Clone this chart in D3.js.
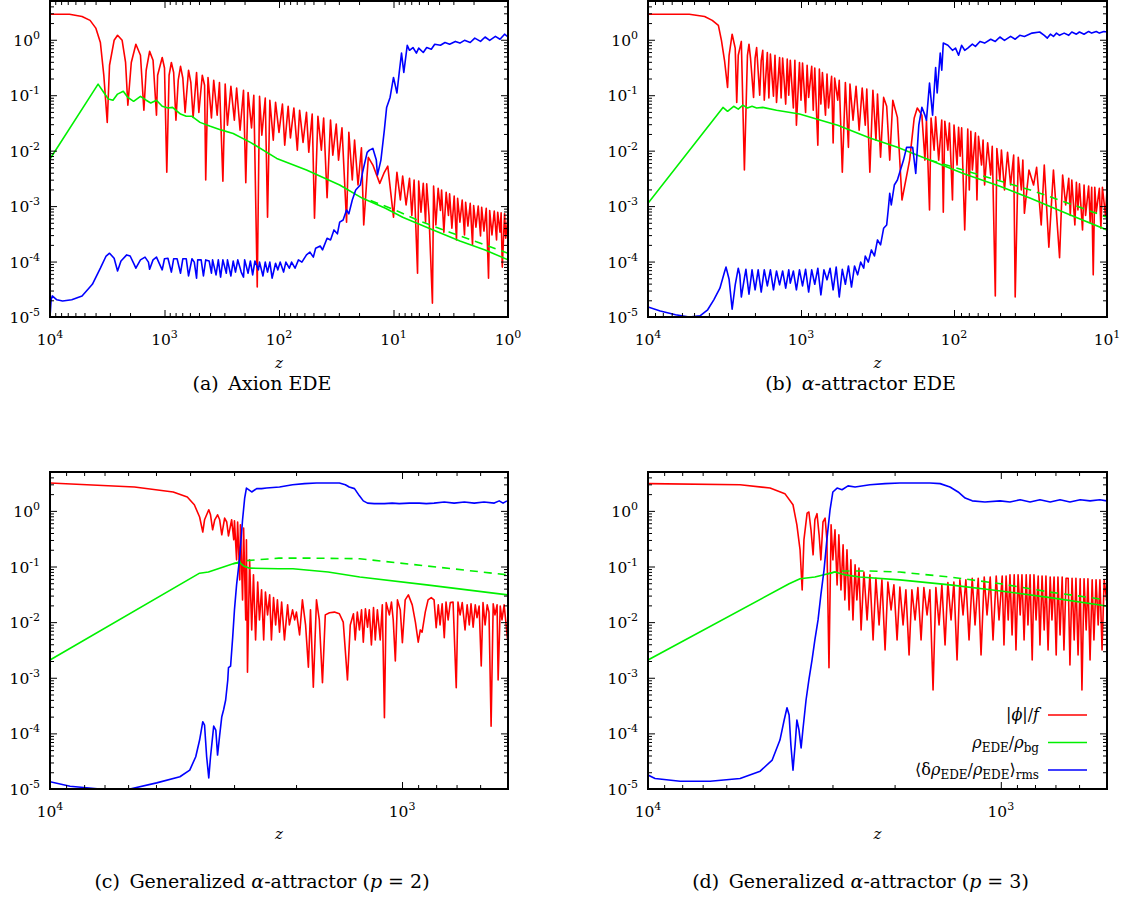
<!DOCTYPE html>
<html>
<head>
<meta charset="utf-8">
<script src="https://cdn.jsdelivr.net/npm/d3@7"></script>
<style>
  body { margin: 0; background: #fff; }
  svg { display: block; }
  text { font-family: "DejaVu Serif", "Liberation Serif", serif; fill: #000; }
</style>
</head>
<body>
<svg id="chart" width="1125" height="903"></svg>
<script>
'use strict'

// every series is a list of [log10 z, log10 value] pairs

// (a) Axion EDE
var phiA = [[4.00,0.46],[3.83,0.46],[3.72,0.42],[3.65,0.35],[3.60,0.21],[3.56,-0.05],[3.53,-0.64],[3.50,-1.49],[3.48,-0.46],[3.44,-0.01],[3.41,0.08],[3.37,-0.01],[3.34,-0.41],[3.32,-1.18],[3.29,-0.41],[3.25,-0.08],[3.21,-0.28],[3.18,-1.27],[3.16,-0.55],[3.13,-0.21],[3.10,-0.37],[3.07,-1.36],[3.06,-0.64],[3.02,-0.32],[3.00,-0.51],[2.98,-2.39],[2.96,-0.64],[2.94,-0.41],[2.92,-0.59],[2.90,-1.45],[2.88,-0.73],[2.86,-0.48],[2.84,-0.69],[2.82,-1.31],[2.79,-0.55],[2.77,-0.77],[2.75,-1.40],[2.72,-0.59],[2.70,-1.31],[2.67,-0.64],[2.65,-0.82],[2.64,-2.53],[2.62,-0.68],[2.59,-1.41],[2.57,-0.73],[2.54,-1.36],[2.52,-0.77],[2.49,-2.55],[2.47,-0.80],[2.45,-1.54],[2.42,-0.84],[2.39,-1.45],[2.37,-0.87],[2.34,-1.63],[2.31,-0.91],[2.29,-2.58],[2.27,-0.95],[2.24,-1.59],[2.22,-1.00],[2.19,-4.46],[2.17,-1.02],[2.15,-1.72],[2.12,-1.05],[2.10,-3.20],[2.08,-1.09],[2.05,-1.81],[2.03,-1.13],[2.00,-1.67],[1.97,-1.16],[1.95,-1.90],[1.92,-1.20],[1.90,-1.77],[1.87,-1.23],[1.84,-1.99],[1.82,-1.27],[1.79,-1.85],[1.76,-1.31],[1.74,-2.03],[1.71,-1.34],[1.69,-3.22],[1.66,-1.38],[1.63,-1.99],[1.61,-1.41],[1.58,-2.85],[1.55,-1.45],[1.53,-2.08],[1.50,-1.52],[1.48,-2.17],[1.45,-1.59],[1.41,-3.29],[1.39,-1.67],[1.36,-2.53],[1.34,-1.81],[1.31,-2.62],[1.28,-1.95],[1.26,-3.34],[1.22,-2.12],[1.18,-2.26],[1.12,-2.59],[1.08,-2.39],[1.05,-2.28],[1.00,-3.20],[0.97,-2.39],[0.94,-2.89],[0.92,-2.46],[0.89,-2.98],[0.86,-2.50],[0.84,-3.17],[0.82,-2.53],[0.79,-4.21],[0.78,-2.55],[0.76,-3.11],[0.74,-2.59],[0.72,-3.29],[0.71,-2.60],[0.69,-3.17],[0.66,-4.75],[0.65,-2.64],[0.63,-3.34],[0.61,-2.68],[0.59,-3.08],[0.58,-2.71],[0.56,-3.47],[0.54,-2.75],[0.52,-3.17],[0.51,-2.78],[0.49,-3.40],[0.47,-2.82],[0.45,-3.61],[0.44,-2.86],[0.42,-3.29],[0.40,-2.89],[0.38,-3.52],[0.37,-2.93],[0.35,-3.36],[0.33,-2.95],[0.31,-3.70],[0.30,-2.99],[0.28,-3.38],[0.26,-3.00],[0.24,-3.54],[0.23,-3.02],[0.21,-3.45],[0.19,-3.04],[0.17,-4.30],[0.16,-3.08],[0.14,-3.52],[0.12,-3.09],[0.10,-3.61],[0.09,-3.11],[0.07,-3.47],[0.06,-3.12],[0.05,-4.10],[0.03,-3.14],[0.02,-3.58],[0.00,-3.18]];
var rhoA = [[4.00,-2.15],[3.58,-0.80],[3.53,-0.95],[3.49,-1.07],[3.45,-1.09],[3.41,-0.98],[3.36,-0.93],[3.32,-1.04],[3.27,-1.11],[3.21,-1.02],[3.16,-1.09],[3.12,-1.14],[3.07,-1.09],[3.02,-1.20],[2.97,-1.23],[2.93,-1.22],[2.86,-1.34],[2.81,-1.38],[2.76,-1.38],[2.69,-1.49],[2.60,-1.56],[2.50,-1.63],[2.40,-1.69],[2.25,-1.85],[2.02,-2.14],[1.76,-2.35],[1.47,-2.62],[1.27,-2.86],[1.07,-3.04],[0.92,-3.20],[0.68,-3.41],[0.42,-3.63],[0.20,-3.79],[0.00,-3.97]];
var rhoDashA = [[1.20,-2.90],[1.00,-3.06],[0.77,-3.27],[0.51,-3.47],[0.24,-3.67],[0.00,-3.85]];
var drhoA = [[4.00,-5.00],[3.99,-4.69],[3.98,-4.62],[3.94,-4.69],[3.89,-4.71],[3.81,-4.69],[3.72,-4.62],[3.63,-4.41],[3.56,-4.12],[3.51,-3.90],[3.48,-3.85],[3.44,-3.94],[3.41,-4.17],[3.38,-3.99],[3.33,-3.88],[3.30,-3.90],[3.27,-4.03],[3.25,-4.12],[3.21,-3.97],[3.17,-3.92],[3.14,-4.01],[3.13,-4.14],[3.10,-3.97],[3.07,-3.92],[3.04,-4.06],[3.02,-4.15],[3.00,-3.95],[2.97,-3.94],[2.94,-4.19],[2.92,-3.95],[2.89,-3.95],[2.86,-4.21],[2.84,-3.95],[2.81,-3.95],[2.79,-4.26],[2.76,-3.95],[2.74,-4.01],[2.72,-4.30],[2.71,-3.97],[2.68,-3.97],[2.66,-4.26],[2.64,-3.97],[2.61,-3.99],[2.59,-4.21],[2.58,-3.97],[2.55,-4.24],[2.53,-3.97],[2.51,-4.28],[2.49,-3.97],[2.46,-4.21],[2.45,-3.97],[2.42,-4.26],[2.40,-3.99],[2.38,-4.19],[2.36,-3.97],[2.33,-4.19],[2.31,-4.28],[2.30,-3.97],[2.27,-4.21],[2.25,-3.99],[2.23,-4.24],[2.21,-3.99],[2.18,-4.15],[2.17,-4.01],[2.14,-4.26],[2.12,-4.01],[2.10,-4.19],[2.08,-4.01],[2.06,-4.30],[2.03,-4.03],[2.01,-4.15],[1.99,-4.01],[1.96,-4.19],[1.94,-4.01],[1.91,-4.12],[1.89,-4.01],[1.86,-4.12],[1.83,-3.97],[1.80,-4.01],[1.76,-3.88],[1.73,-3.83],[1.70,-3.92],[1.68,-3.76],[1.64,-3.72],[1.62,-3.79],[1.58,-3.58],[1.55,-3.61],[1.52,-3.43],[1.49,-3.50],[1.47,-3.29],[1.44,-3.25],[1.41,-3.07],[1.39,-3.14],[1.36,-2.89],[1.33,-2.71],[1.29,-2.62],[1.27,-2.39],[1.23,-2.03],[1.21,-1.99],[1.18,-1.96],[1.15,-2.17],[1.14,-2.44],[1.11,-2.17],[1.08,-1.63],[1.06,-1.22],[1.03,-1.04],[1.00,-0.68],[0.99,-0.77],[0.97,-0.96],[0.95,-0.59],[0.93,-0.24],[0.91,-0.59],[0.88,-0.10],[0.86,-0.19],[0.83,-0.14],[0.80,-0.24],[0.78,-0.15],[0.74,-0.23],[0.71,-0.14],[0.67,-0.17],[0.64,-0.08],[0.59,-0.10],[0.55,-0.05],[0.51,-0.08],[0.46,-0.03],[0.42,-0.06],[0.38,-0.01],[0.33,-0.05],[0.29,0.03],[0.24,-0.03],[0.20,0.05],[0.16,-0.01],[0.11,0.06],[0.07,0.01],[0.03,0.10],[0.00,0.05]];

// (b) alpha-attractor EDE
var phiB = [[4.00,0.46],[3.73,0.46],[3.63,0.42],[3.58,0.35],[3.54,0.26],[3.52,-0.01],[3.50,-0.37],[3.48,-0.86],[3.47,-0.28],[3.45,0.10],[3.43,-0.15],[3.42,-1.13],[3.41,-0.28],[3.39,-0.03],[3.37,-2.35],[3.35,-0.28],[3.34,-0.08],[3.33,-0.33],[3.31,-1.04],[3.30,-0.33],[3.29,-0.14],[3.27,-1.00],[3.26,-0.37],[3.25,-0.19],[3.24,-1.09],[3.22,-0.23],[3.21,-1.05],[3.20,-0.26],[3.18,-1.02],[3.17,-0.28],[3.16,-1.13],[3.14,-0.32],[3.13,-1.05],[3.12,-0.33],[3.10,-1.16],[3.09,-0.35],[3.08,-1.00],[3.07,-0.37],[3.05,-1.23],[3.04,-0.37],[3.03,-1.54],[3.01,-0.41],[3.00,-1.09],[2.99,-0.42],[2.97,-1.31],[2.96,-0.46],[2.95,-1.04],[2.93,-0.48],[2.92,-1.27],[2.91,-0.51],[2.89,-1.90],[2.88,-0.53],[2.87,-1.16],[2.86,-0.59],[2.84,-1.36],[2.83,-0.62],[2.82,-1.23],[2.80,-0.66],[2.79,-1.86],[2.78,-0.69],[2.76,-1.09],[2.75,-0.73],[2.73,-2.39],[2.71,-0.77],[2.69,-1.94],[2.68,-0.80],[2.66,-1.45],[2.64,-0.84],[2.62,-1.63],[2.60,-0.87],[2.58,-1.54],[2.57,-0.89],[2.55,-2.39],[2.53,-0.91],[2.51,-1.81],[2.50,-0.98],[2.48,-2.12],[2.46,-1.04],[2.44,-1.20],[2.42,-2.17],[2.40,-1.09],[2.37,-1.40],[2.34,-2.89],[2.29,-2.17],[2.26,-1.41],[2.24,-1.23],[2.21,-1.36],[2.19,-2.17],[2.18,-1.45],[2.16,-3.07],[2.15,-1.41],[2.13,-1.99],[2.12,-1.39],[2.10,-2.17],[2.08,-1.45],[2.07,-3.11],[2.06,-1.47],[2.04,-1.99],[2.03,-1.50],[2.01,-2.89],[2.00,-1.54],[1.98,-2.26],[1.97,-1.58],[1.96,-2.10],[1.95,-1.59],[1.93,-3.43],[1.91,-1.61],[1.90,-2.71],[1.89,-1.65],[1.88,-2.35],[1.86,-1.68],[1.85,-2.89],[1.84,-1.74],[1.82,-2.26],[1.81,-1.81],[1.80,-2.62],[1.78,-1.86],[1.76,-2.44],[1.75,-1.92],[1.73,-4.62],[1.72,-1.96],[1.70,-2.53],[1.69,-1.99],[1.67,-2.71],[1.65,-2.03],[1.63,-2.62],[1.61,-2.08],[1.60,-4.64],[1.58,-2.12],[1.56,-2.71],[1.55,-2.17],[1.54,-3.13],[1.51,-2.35],[1.48,-2.62],[1.46,-2.30],[1.43,-3.34],[1.41,-2.26],[1.38,-3.74],[1.35,-2.35],[1.31,-3.93],[1.29,-2.44],[1.27,-2.98],[1.25,-2.50],[1.24,-3.17],[1.23,-2.53],[1.21,-3.34],[1.20,-2.57],[1.19,-3.07],[1.18,-2.60],[1.16,-3.43],[1.15,-2.62],[1.14,-3.17],[1.12,-2.64],[1.11,-3.29],[1.10,-2.66],[1.09,-4.24],[1.08,-2.66],[1.07,-3.11],[1.05,-2.68],[1.04,-3.40],[1.03,-2.66],[1.01,-3.17],[1.00,-2.71]];
var rhoB = [[4.00,-2.95],[3.51,-1.22],[3.48,-1.29],[3.44,-1.20],[3.41,-1.25],[3.38,-1.18],[3.35,-1.23],[3.32,-1.20],[3.29,-1.23],[3.25,-1.22],[3.16,-1.27],[3.01,-1.34],[2.76,-1.54],[2.55,-1.77],[2.37,-1.94],[2.16,-2.17],[1.94,-2.41],[1.70,-2.64],[1.50,-2.86],[1.24,-3.16],[1.00,-3.43]];
var rhoDashB = [[2.16,-2.17],[1.83,-2.44],[1.50,-2.71],[1.24,-2.96],[1.00,-3.20]];
var drhoB = [[4.00,-4.82],[3.92,-4.89],[3.82,-4.96],[3.73,-5.00],[3.66,-4.98],[3.61,-4.87],[3.57,-4.69],[3.53,-4.48],[3.50,-4.19],[3.49,-4.10],[3.47,-4.32],[3.45,-4.86],[3.43,-4.42],[3.41,-4.12],[3.40,-4.24],[3.39,-4.64],[3.37,-4.30],[3.36,-4.14],[3.34,-4.59],[3.32,-4.15],[3.30,-4.51],[3.28,-4.15],[3.26,-4.55],[3.24,-4.15],[3.22,-4.44],[3.20,-4.15],[3.18,-4.51],[3.16,-4.17],[3.14,-4.42],[3.12,-4.17],[3.10,-4.48],[3.08,-4.15],[3.07,-4.39],[3.05,-4.17],[3.03,-4.51],[3.01,-4.15],[2.99,-4.44],[2.97,-4.14],[2.95,-4.55],[2.93,-4.15],[2.91,-4.41],[2.89,-4.12],[2.87,-4.60],[2.85,-4.15],[2.83,-4.33],[2.81,-4.12],[2.79,-4.51],[2.77,-4.10],[2.75,-4.64],[2.73,-4.14],[2.71,-4.41],[2.69,-4.08],[2.67,-4.46],[2.65,-4.08],[2.63,-4.24],[2.61,-4.01],[2.59,-4.12],[2.58,-3.90],[2.56,-4.01],[2.54,-3.79],[2.52,-3.90],[2.50,-3.61],[2.48,-3.70],[2.46,-3.40],[2.44,-3.34],[2.43,-3.07],[2.42,-2.77],[2.41,-2.98],[2.39,-2.62],[2.37,-2.53],[2.35,-2.35],[2.33,-2.17],[2.31,-1.94],[2.27,-1.94],[2.25,-2.41],[2.23,-1.54],[2.21,-1.22],[2.19,-1.36],[2.18,-1.45],[2.16,-0.78],[2.14,-1.36],[2.12,-0.50],[2.11,-0.96],[2.09,-0.24],[2.08,-0.55],[2.07,-0.06],[2.04,-0.10],[2.01,-0.19],[1.99,-0.15],[1.97,-0.28],[1.95,-0.10],[1.93,-0.19],[1.91,-0.15],[1.88,-0.08],[1.86,-0.12],[1.83,-0.03],[1.80,-0.06],[1.76,0.01],[1.73,-0.03],[1.70,0.05],[1.67,-0.01],[1.63,0.06],[1.60,0.01],[1.57,0.08],[1.54,0.06],[1.49,0.12],[1.44,0.14],[1.41,0.08],[1.39,0.03],[1.37,0.10],[1.35,0.06],[1.33,0.12],[1.31,0.08],[1.28,0.12],[1.25,0.08],[1.23,0.14],[1.20,0.10],[1.18,0.14],[1.15,0.10],[1.12,0.15],[1.10,0.12],[1.07,0.15],[1.05,0.12],[1.02,0.15],[1.00,0.14]];

// (c) generalized alpha-attractor, p = 2
var phiC = [[4.000,0.50],[3.76,0.43],[3.65,0.34],[3.61,0.25],[3.59,0.11],[3.575,-0.11],[3.566,-0.38],[3.561,-0.16],[3.549,0.02],[3.544,-0.07],[3.538,-0.34],[3.532,-0.16],[3.524,-0.07],[3.518,-0.16],[3.512,-0.43],[3.504,-0.13],[3.498,-0.20],[3.493,-0.45],[3.484,-0.16],[3.478,-0.52],[3.476,-0.18],[3.470,-0.88],[3.467,-0.20],[3.461,-1.24],[3.459,-0.25],[3.453,-1.60],[3.450,-0.31],[3.444,-1.96],[3.442,-0.52],[3.439,-2.90],[3.433,-0.88],[3.427,-2.14],[3.422,-1.15],[3.416,-2.32],[3.410,-1.28],[3.405,-1.96],[3.399,-1.42],[3.393,-2.32],[3.388,-1.46],[3.382,-1.87],[3.376,-1.51],[3.371,-2.32],[3.365,-1.56],[3.359,-2.05],[3.354,-1.60],[3.348,-2.18],[3.342,-1.64],[3.334,-2.32],[3.325,-1.69],[3.320,-2.05],[3.311,-1.78],[3.305,-1.96],[3.300,-1.82],[3.291,-2.23],[3.283,-1.60],[3.274,-2.05],[3.266,-2.81],[3.260,-1.78],[3.252,-3.17],[3.243,-1.60],[3.235,-1.96],[3.226,-3.09],[3.218,-1.87],[3.206,-1.83],[3.192,-1.82],[3.178,-1.85],[3.167,-2.00],[3.155,-3.04],[3.147,-2.05],[3.138,-1.85],[3.133,-2.32],[3.127,-1.82],[3.121,-2.14],[3.115,-1.78],[3.110,-2.36],[3.104,-1.76],[3.098,-2.09],[3.093,-1.78],[3.087,-2.41],[3.081,-1.74],[3.076,-2.32],[3.070,-1.78],[3.062,-2.32],[3.056,-1.69],[3.050,-3.72],[3.045,-1.65],[3.036,-1.87],[3.030,-1.64],[3.025,-1.96],[3.019,-2.70],[3.013,-1.60],[3.005,-1.78],[2.999,-2.37],[2.991,-1.60],[2.982,-1.51],[2.971,-1.69],[2.962,-2.00],[2.954,-2.36],[2.948,-2.14],[2.943,-2.18],[2.934,-1.82],[2.926,-1.60],[2.917,-1.56],[2.909,-1.60],[2.903,-2.10],[2.897,-1.69],[2.892,-2.05],[2.886,-1.67],[2.880,-2.28],[2.875,-1.64],[2.869,-1.96],[2.863,-1.65],[2.855,-1.64],[2.846,-3.18],[2.841,-1.64],[2.835,-1.87],[2.829,-1.65],[2.821,-2.14],[2.815,-1.69],[2.809,-2.05],[2.804,-1.67],[2.798,-2.09],[2.792,-1.69],[2.787,-1.92],[2.781,-1.71],[2.775,-2.79],[2.770,-1.65],[2.764,-2.05],[2.758,-1.69],[2.753,-1.82],[2.747,-3.87],[2.741,-1.67],[2.736,-1.87],[2.730,-1.69],[2.727,-3.04],[2.721,-1.71],[2.716,-1.96],[2.710,-1.69],[2.700,-2.32]];
var rhoC = [[4.00,-2.68],[3.575,-1.12],[3.55,-1.10],[3.48,-0.95],[3.461,-0.93],[3.45,-0.99],[3.433,-1.03],[3.35,-1.04],[3.31,-1.04],[3.21,-1.10],[3.12,-1.19],[2.93,-1.33],[2.70,-1.51]];
var rhoDashC = [[3.48,-0.95],[3.453,-0.90],[3.35,-0.85],[3.26,-0.85],[3.12,-0.86],[2.93,-0.99],[2.70,-1.15]];
var drhoC = [[4.000,-4.87],[3.943,-4.95],[3.858,-5.00],[3.773,-5.00],[3.697,-4.89],[3.631,-4.78],[3.603,-4.66],[3.586,-4.42],[3.575,-4.12],[3.566,-3.79],[3.561,-3.85],[3.555,-4.42],[3.549,-4.80],[3.544,-4.42],[3.535,-3.87],[3.529,-3.94],[3.524,-4.39],[3.518,-4.03],[3.512,-3.70],[3.507,-3.58],[3.501,-3.40],[3.495,-3.04],[3.493,-2.82],[3.487,-2.79],[3.481,-2.27],[3.476,-1.78],[3.470,-1.33],[3.461,-0.83],[3.453,-0.16],[3.447,0.23],[3.442,0.41],[3.427,0.34],[3.413,0.40],[3.399,0.40],[3.385,0.41],[3.348,0.43],[3.311,0.47],[3.277,0.49],[3.243,0.50],[3.206,0.50],[3.178,0.50],[3.161,0.47],[3.150,0.43],[3.135,0.40],[3.121,0.27],[3.110,0.18],[3.098,0.14],[3.079,0.13],[3.050,0.13],[3.028,0.14],[3.008,0.13],[2.979,0.14],[2.951,0.14],[2.931,0.13],[2.909,0.14],[2.880,0.16],[2.852,0.14],[2.823,0.16],[2.795,0.14],[2.767,0.16],[2.738,0.14],[2.724,0.18],[2.713,0.14],[2.702,0.18]];

// (d) generalized alpha-attractor, p = 3
var phiD = [[4.000,0.49],[3.739,0.47],[3.654,0.41],[3.612,0.31],[3.589,0.11],[3.578,-0.25],[3.569,-0.70],[3.563,-1.42],[3.558,-0.52],[3.549,-0.04],[3.544,-0.02],[3.538,-0.34],[3.532,-0.79],[3.527,-0.16],[3.521,-0.05],[3.515,-0.43],[3.510,-0.88],[3.504,-0.20],[3.498,-0.13],[3.493,-0.52],[3.487,-2.82],[3.481,-0.25],[3.476,-0.88],[3.470,-0.34],[3.464,-1.33],[3.459,-0.43],[3.453,-1.42],[3.447,-0.61],[3.442,-1.60],[3.436,-0.70],[3.430,-1.78],[3.425,-0.88],[3.419,-1.96],[3.413,-0.97],[3.408,-1.60],[3.402,-1.03],[3.396,-2.14],[3.388,-1.10],[3.379,-1.96],[3.371,-1.15],[3.362,-2.32],[3.354,-1.21],[3.345,-2.05],[3.337,-1.24],[3.328,-2.50],[3.320,-1.28],[3.311,-1.78],[3.303,-1.33],[3.294,-2.32],[3.286,-1.37],[3.277,-2.05],[3.269,-1.42],[3.260,-2.59],[3.252,-1.42],[3.243,-1.96],[3.235,-1.38],[3.226,-2.32],[3.218,-1.38],[3.209,-1.87],[3.201,-1.42],[3.192,-3.22],[3.184,-1.38],[3.175,-2.05],[3.167,-1.33],[3.158,-2.41],[3.150,-1.29],[3.141,-1.96],[3.133,-1.28],[3.124,-2.68],[3.116,-1.24],[3.107,-1.87],[3.099,-1.24],[3.090,-2.32],[3.081,-1.21],[3.073,-2.05],[3.064,-1.21],[3.056,-2.59],[3.047,-1.19],[3.039,-1.87],[3.030,-1.19],[3.022,-2.32],[3.013,-1.17],[3.005,-1.96],[2.996,-1.17],[2.991,-2.41],[2.985,-1.17],[2.979,-1.96],[2.974,-1.15],[2.968,-2.23],[2.962,-1.15],[2.957,-2.50],[2.951,-1.15],[2.945,-1.87],[2.940,-1.15],[2.934,-2.32],[2.928,-1.15],[2.923,-2.05],[2.917,-1.15],[2.911,-2.68],[2.906,-1.15],[2.900,-1.96],[2.894,-1.17],[2.889,-2.41],[2.883,-1.17],[2.877,-2.14],[2.872,-1.17],[2.866,-2.50],[2.860,-1.19],[2.855,-1.96],[2.849,-1.19],[2.843,-2.59],[2.838,-1.19],[2.832,-2.23],[2.826,-1.19],[2.821,-2.50],[2.815,-1.21],[2.809,-1.21],[2.804,-2.77],[2.798,-1.21],[2.792,-2.32],[2.787,-1.21],[2.781,-2.59],[2.775,-1.22],[2.770,-3.22],[2.764,-1.22],[2.758,-2.14],[2.753,-1.22],[2.747,-2.68],[2.741,-1.24],[2.736,-2.32],[2.730,-1.24],[2.724,-2.05],[2.719,-1.24],[2.713,-2.50],[2.707,-1.24],[2.700,-1.60]];
var rhoD = [[4.000,-2.68],[3.60,-1.31],[3.569,-1.22],[3.527,-1.19],[3.49,-1.13],[3.47,-1.10],[3.442,-1.15],[3.40,-1.19],[3.286,-1.24],[3.144,-1.33],[3.00,-1.44],[2.86,-1.56],[2.70,-1.71]];
var rhoDashD = [[3.49,-1.13],[3.459,-1.08],[3.371,-1.08],[3.286,-1.10],[3.144,-1.19],[3.00,-1.31],[2.86,-1.46],[2.70,-1.60]];
var drhoD = [[4.000,-4.75],[3.980,-4.81],[3.909,-4.86],[3.824,-4.86],[3.739,-4.81],[3.682,-4.68],[3.648,-4.48],[3.626,-4.12],[3.614,-3.76],[3.606,-3.54],[3.600,-3.67],[3.595,-4.21],[3.589,-4.66],[3.583,-4.21],[3.578,-3.76],[3.572,-3.94],[3.566,-4.26],[3.561,-3.94],[3.552,-3.40],[3.544,-3.04],[3.535,-2.68],[3.527,-2.32],[3.518,-1.96],[3.510,-1.51],[3.501,-1.06],[3.493,-0.52],[3.484,0.02],[3.476,0.34],[3.464,0.41],[3.450,0.38],[3.433,0.45],[3.413,0.43],[3.371,0.47],[3.328,0.49],[3.286,0.50],[3.243,0.50],[3.201,0.50],[3.172,0.49],[3.144,0.43],[3.121,0.34],[3.101,0.23],[3.081,0.18],[3.045,0.16],[3.002,0.18],[2.974,0.16],[2.945,0.20],[2.917,0.16],[2.889,0.20],[2.860,0.16],[2.832,0.20],[2.804,0.16],[2.775,0.20],[2.747,0.18],[2.719,0.20],[2.700,0.18]];

var yDecades = [0, -1, -2, -3, -4, -5];

const RED = '#ff0000', GREEN = '#00f000', BLUE = '#0000ff';

const svg = d3.select('#chart');

const panels = [
    {tag: '(a)', title: [['Axion EDE', false]], left: 50, right: 508, top: 1, bottom: 317, zEnd: 1,
        phi: phiA, rho: rhoA, rhoDash: rhoDashA, drho: drhoA},
    {tag: '(b)', title: [['α', true], ['-attractor EDE', false]], left: 648, right: 1107, top: 1, bottom: 317, zEnd: 10,
        phi: phiB, rho: rhoB, rhoDash: rhoDashB, drho: drhoB},
    {tag: '(c)', title: [['Generalized ', false], ['α', true], ['-attractor (', false], ['p', true], [' = 2)', false]], left: 50, right: 508, top: 472, bottom: 789, zEnd: 500,
        phi: phiC, rho: rhoC, rhoDash: rhoDashC, drho: drhoC},
    {tag: '(d)', title: [['Generalized ', false], ['α', true], ['-attractor (', false], ['p', true], [' = 3)', false]], left: 648, right: 1107, top: 472, bottom: 789, zEnd: 500,
        phi: phiD, rho: rhoD, rhoDash: rhoDashD, drho: drhoD, legend: true}
];

function powText(sel, exp) {
    sel.append('tspan').text('10');
    sel.append('tspan').attr('dy', -7).attr('font-size', 11).text(exp);
}

function drawPanel(p, i) {
    var x = d3.scaleLog().domain([1e4, p.zEnd]).range([p.left, p.right]);
    var y = d3.scaleLog().domain([5, 1e-5]).range([p.top, p.bottom]);
    var g = svg.append('g');

    g.append('clipPath').attr('id', 'clip' + i)
        .append('rect')
        .attr('x', p.left).attr('y', p.top)
        .attr('width', p.right - p.left).attr('height', p.bottom - p.top);

    var line = d3.line()
        .x(function(d){ return x(Math.pow(10, d[0])); })
        .y(function(d){ return y(Math.pow(10, d[1])); });

    var plot = g.append('g').attr('clip-path', 'url(#clip' + i + ')');
    plot.append('path').datum(p.phi).attr('d', line)
        .attr('fill', 'none').attr('stroke', RED).attr('stroke-width', 1.6).attr('stroke-linejoin', 'round');
    plot.append('path').datum(p.rhoDash).attr('d', line)
        .attr('fill', 'none').attr('stroke', GREEN).attr('stroke-width', 1.6).attr('stroke-dasharray', '8,6');
    plot.append('path').datum(p.rho).attr('d', line)
        .attr('fill', 'none').attr('stroke', GREEN).attr('stroke-width', 1.6).attr('stroke-linejoin', 'round');
    plot.append('path').datum(p.drho).attr('d', line)
        .attr('fill', 'none').attr('stroke', BLUE).attr('stroke-width', 1.6).attr('stroke-linejoin', 'round');

    // ticks on all four sides, pointing inward
    var lo = Math.round(Math.log10(p.zEnd));
    var xMajor = d3.range(lo, 5).map(function(k){ return Math.pow(10, k); })
        .filter(function(v){ return v >= p.zEnd; });
    var xMinor = [];
    d3.range(lo - 1, 4).forEach(function(k){
        d3.range(2, 10).forEach(function(m){
            var v = m * Math.pow(10, k);
            if (v > p.zEnd && v < 1e4) xMinor.push(v);
        });
    });
    var yMajor = yDecades.map(function(k){ return Math.pow(10, k); });
    var yMinor = [];
    yDecades.forEach(function(k){
        d3.range(2, 10).forEach(function(m){
            var v = m * Math.pow(10, k);
            if (v <= 5) yMinor.push(v);
        });
    });

    var axes = [
        [d3.axisBottom(x), 'translate(0,' + p.bottom + ')', xMajor, xMinor],
        [d3.axisTop(x), 'translate(0,' + p.top + ')', xMajor, xMinor],
        [d3.axisLeft(y), 'translate(' + p.left + ',0)', yMajor, yMinor],
        [d3.axisRight(y), 'translate(' + p.right + ',0)', yMajor, yMinor]
    ];
    axes.forEach(function(a){
        [[a[2], 7], [a[3], 4]].forEach(function(t){
            var ax = a[0].tickValues(t[0]).tickSize(-t[1]).tickSizeOuter(0).tickFormat('');
            var ag = g.append('g').attr('transform', a[1]).call(ax);
            ag.select('.domain').remove();
            ag.selectAll('line').attr('stroke', '#000').attr('stroke-width', 1);
        });
    });

    g.append('rect')
        .attr('x', p.left).attr('y', p.top)
        .attr('width', p.right - p.left).attr('height', p.bottom - p.top)
        .attr('fill', 'none').attr('stroke', '#000').attr('stroke-width', 2);

    // tick labels
    yDecades.forEach(function(k){
        var t = g.append('text')
            .attr('x', p.left - 10).attr('y', y(Math.pow(10, k)) + 6)
            .attr('text-anchor', 'end').attr('font-size', 15.5);
        powText(t, String(k));
    });
    xMajor.forEach(function(v){
        var t = g.append('text')
            .attr('x', x(v)).attr('y', p.bottom + 28)
            .attr('text-anchor', 'middle').attr('font-size', 15.5);
        powText(t, String(Math.round(Math.log10(v))));
    });

    var isBottom = p.top > 100;
    g.append('text')
        .attr('x', (p.left + p.right) / 2).attr('y', p.bottom + (isBottom ? 50 : 51))
        .attr('text-anchor', 'middle').attr('font-size', 15).attr('font-style', 'italic')
        .text('z');

    var cap = g.append('text')
        .attr('x', (p.left + p.right) / 2 - 17).attr('y', p.bottom + (isBottom ? 99 : 73))
        .attr('text-anchor', 'middle').attr('font-size', 19);
    cap.append('tspan').text(p.tag + '\u2002');
    p.title.forEach(function(s){
        var ts = cap.append('tspan').text(s[0]);
        if (s[1]) ts.attr('font-style', 'italic');
    });

    if (p.legend) drawLegend(g, p);
}

function drawLegend(g, p) {
    var rows = [
        {color: RED, parts: [['|', 0, 0], ['ϕ', 1, 0], ['|/', 0, 0], ['f', 1, 0]]},
        {color: GREEN, parts: [['ρ', 1, 0], ['EDE', 0, 1], ['/', 0, 0], ['ρ', 1, 0], ['bg', 0, 1]]},
        {color: BLUE, parts: [['⟨δ', 0, 0], ['ρ', 1, 0], ['EDE', 0, 1], ['/', 0, 0], ['ρ', 1, 0], ['EDE', 0, 1], ['⟩', 0, 0], ['rms', 0, 1]]}
    ];
    var textRight = p.right - 68, y0 = p.bottom - 74, dy = 27.5;
    rows.forEach(function(r, i){
        var yy = y0 + i * dy;
        var t = g.append('text')
            .attr('x', textRight).attr('y', yy + 5)
            .attr('text-anchor', 'end').attr('font-size', 16);
        var sub = false;
        r.parts.forEach(function(s){
            var ts = t.append('tspan').text(s[0]);
            if (s[1]) ts.attr('font-style', 'italic');
            if (s[2] && !sub) { ts.attr('dy', 4).attr('font-size', 12); sub = true; }
            else if (s[2]) { ts.attr('font-size', 12); }
            else if (sub) { ts.attr('dy', -4); sub = false; }
        });
        g.append('line')
            .attr('x1', p.right - 59).attr('x2', p.right - 20)
            .attr('y1', yy).attr('y2', yy)
            .attr('stroke', r.color).attr('stroke-width', 1.6);
    });
}

panels.forEach(drawPanel);
</script>
</body>
</html>
